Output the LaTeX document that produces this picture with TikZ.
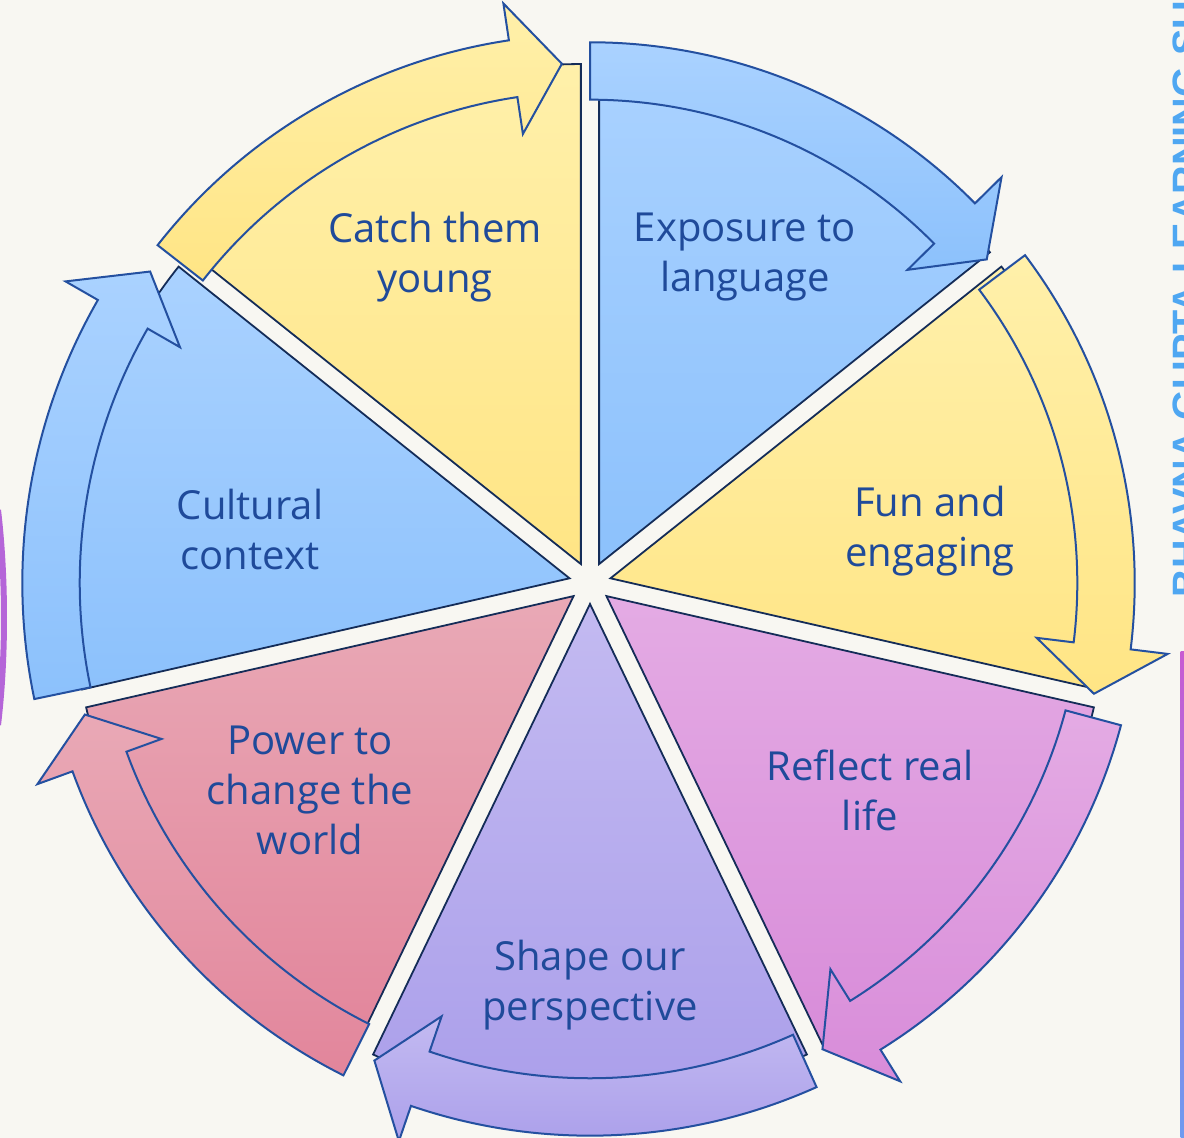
\documentclass[tikz,border=0pt]{standalone}
\usepackage{fontspec}
\setmainfont{Open Sans}
\newfontfamily\tagfont{Liberation Sans}
\definecolor{bg}{HTML}{F8F7F2}
\definecolor{ink}{HTML}{1F4A9A}
\definecolor{edge}{HTML}{2450A0}
\definecolor{yelT}{HTML}{FFF0AA}
\definecolor{yelB}{HTML}{FFE585}
\definecolor{bluT}{HTML}{AAD2FF}
\definecolor{bluB}{HTML}{8CC1FC}
\definecolor{pnkT}{HTML}{E4ABE4}
\definecolor{pnkB}{HTML}{D88CD9}
\definecolor{purT}{HTML}{C3BAF1}
\definecolor{purB}{HTML}{AA9EEA}
\definecolor{rosT}{HTML}{E9A9B6}
\definecolor{rosB}{HTML}{E2859B}
\definecolor{tag}{HTML}{4FA7F2}
\definecolor{lil}{HTML}{B565D8}
\definecolor{barT}{HTML}{C85AD2}
\definecolor{barB}{HTML}{6E9BF0}

\begin{document}
\begin{tikzpicture}[x=0.5pt,y=0.5pt,
  wedge/.style={draw=edge!55!black, line width=0.9pt},
  ring/.style={draw=edge, line width=1pt, line join=miter},
  label/.style={text=ink, align=center, font=\fontsize{20}{25}\selectfont, inner sep=0pt}]
\clip (0,0) rectangle (1184,1138);
\fill[bg] (0,0) rectangle (1184,1138);

\begin{scope}[shift={(590,555)}]
\foreach \m/\ct/\cb in {115.71/yelT/yelB, 64.29/bluT/bluB, 12.86/yelT/yelB, -38.57/pnkT/pnkB,
                        -90/purT/purB, -141.43/rosT/rosB, 167.14/bluT/bluB}
  \shade[wedge, top color=\ct, bottom color=\cb]
    (\m:21) -- ++(\m+25.71:500) arc[start angle=\m+25.71, end angle=\m-25.71, radius=500] -- cycle;
\foreach \a/\b/\r/\ct/\cb in {142/93.1/520/yelT/yelB, 90/39.2/512/bluT/bluB, 37/-12.4/516/yelT/yelB,
                              -15/-63.5/521/pnkT/pnkB, -65.8/-114.3/524/purT/purB,
                              -116.6/-165.4/522/rosT/rosB, 191.8/144.7/539/bluT/bluB}
  \shade[ring, top color=\ct, bottom color=\cb]
    ({\a}:{\r+28.7}) arc[start angle=\a, end angle=\b+5.4, radius=\r+28.7]
    -- ({\b+5.4}:{\r+66}) -- ({\b}:{\r}) -- ({\b+5.4}:{\r-66}) -- ({\b+5.4}:{\r-28.7})
    arc[start angle=\b+5.4, end angle=\a, radius=\r-28.7] -- cycle;
\end{scope}

\node[label] (catch) at (435,881) {Catch them\\young};
\node[label] (expo) at (745,881) {Exposure to\\language};
\node[label] (fun) at (930,607) {Fun and\\engaging};
\node[label] (real) at (870,348) {Reflect real\\life};
\node[label] (shape) at (590,153) {Shape our\\perspective};
\node[label] (power) at (310,348) {Power to\\change the\\world};
\node[label] (culture) at (250,608) {Cultural\\context};

\node[rotate=90, anchor=base west, inner sep=0pt, text=tag,
  font=\tagfont\bfseries\fontsize{19.8}{24}\selectfont] (brand) at (1200,540) {BHAVNA GUPTA LEARNING SUITE};
\draw[lil, line width=3pt] (-2,628) .. controls (6,560) and (6,480) .. (-2,413);
\shade[top color=barT, bottom color=barB] (1180.5,0) rectangle (1184,486);
\end{tikzpicture}
\end{document}
